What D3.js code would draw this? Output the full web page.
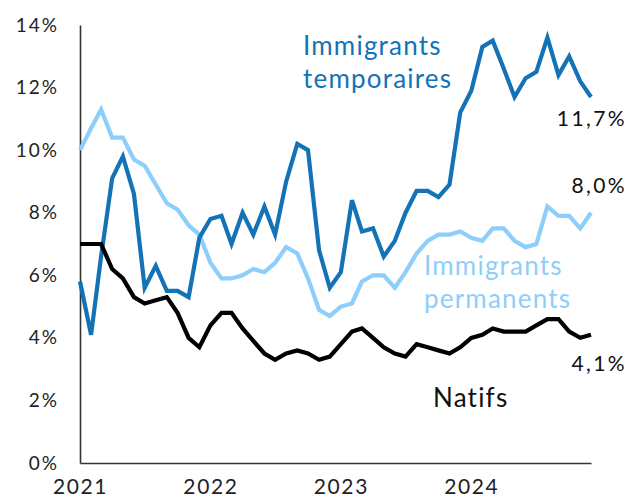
<!DOCTYPE html>
<html>
<head>
<meta charset="utf-8">
<script src="https://cdn.jsdelivr.net/npm/d3@7"></script>
<style>
  html, body { margin: 0; padding: 0; background: #fff; }
  svg { display: block; font-family: Lato, "Open Sans", sans-serif; }
</style>
</head>
<body>
<svg id="chart" width="631" height="502"></svg>
<script>
// Monthly unemployment rate (%), January 2021 to December 2024
const months = d3.range(48).map(i => new Date(2021, i, 1));

const temporaires = [
  5.8, 4.1, 6.6, 9.1, 9.8, 8.6, 5.6, 6.3, 5.5, 5.5, 5.3, 7.2,
  7.8, 7.9, 7.0, 8.0, 7.3, 8.2, 7.3, 9.0, 10.2, 10.0, 6.8, 5.6,
  6.1, 8.4, 7.4, 7.5, 6.6, 7.1, 8.0, 8.7, 8.7, 8.5, 8.9, 11.2,
  11.9, 13.3, 13.5, 12.6, 11.7, 12.3, 12.5, 13.6, 12.4, 13.0, 12.2, 11.7
];

const permanents = [
  10.0, 10.7, 11.3, 10.4, 10.4, 9.7, 9.5, 8.9, 8.3, 8.1, 7.6, 7.3,
  6.4, 5.9, 5.9, 6.0, 6.2, 6.1, 6.4, 6.9, 6.7, 5.9, 4.9, 4.7,
  5.0, 5.1, 5.8, 6.0, 6.0, 5.6, 6.1, 6.7, 7.1, 7.3, 7.3, 7.4,
  7.2, 7.1, 7.5, 7.5, 7.1, 6.9, 7.0, 8.2, 7.9, 7.9, 7.5, 8.0
];

const natifs = [
  7.0, 7.0, 7.0, 6.2, 5.9, 5.3, 5.1, 5.2, 5.3, 4.8, 4.0, 3.7,
  4.4, 4.8, 4.8, 4.3, 3.9, 3.5, 3.3, 3.5, 3.6, 3.5, 3.3, 3.4,
  3.8, 4.2, 4.3, 4.0, 3.7, 3.5, 3.4, 3.8, 3.7, 3.6, 3.5, 3.7,
  4.0, 4.1, 4.3, 4.2, 4.2, 4.2, 4.4, 4.6, 4.6, 4.2, 4.0, 4.1
];

const yTicks = [0, 2, 4, 6, 8, 10, 12, 14];
const xTickYears = [2021, 2022, 2023, 2024];

const colors = { temporaires: "#1472b6", permanents: "#8dcefa", natifs: "#000000" };

const svg = d3.select("#chart");
const margin = { left: 80, right: 40, top: 25, bottom: 39 };
const width = 631, height = 502;

const x = d3.scaleTime()
  .domain([months[0], months[months.length - 1]])
  .range([margin.left, width - margin.right]);

const y = d3.scaleLinear()
  .domain([0, 14])
  .range([height - margin.bottom, margin.top]);

// Axes: plain lines, labels only
const yAxis = d3.axisLeft(y)
  .tickValues(yTicks)
  .tickSize(0)
  .tickPadding(21)
  .tickFormat(d => d + "%");

const gy = svg.append("g")
  .attr("transform", `translate(${margin.left},0)`)
  .call(yAxis);
gy.select(".domain").attr("stroke", "#333").attr("stroke-width", 1.6);
gy.selectAll("text")
  .attr("font-size", 19)
  .attr("letter-spacing", 2)
  .attr("fill", "#222")
  .attr("font-family", "Lato, sans-serif");

const xAxis = d3.axisBottom(x)
  .tickValues(xTickYears.map(yr => new Date(yr, 0, 1)))
  .tickSize(0)
  .tickPadding(16)
  .tickFormat(d3.timeFormat("%Y"));

const gx = svg.append("g")
  .attr("transform", `translate(0,${y(0)})`)
  .call(xAxis);
gx.select(".domain").attr("stroke", "#333").attr("stroke-width", 1.6);
gx.selectAll("text")
  .attr("font-size", 21)
  .attr("letter-spacing", 1.6)
  .attr("fill", "#222")
  .attr("font-family", "Lato, sans-serif");

// Series lines
const line = d3.line()
  .x((d, i) => x(months[i]))
  .y(d => y(d));

const series = [
  { key: "permanents", values: permanents },
  { key: "temporaires", values: temporaires },
  { key: "natifs", values: natifs }
];

svg.append("g")
  .selectAll("path")
  .data(series)
  .join("path")
  .attr("d", s => line(s.values))
  .attr("fill", "none")
  .attr("stroke", s => colors[s.key])
  .attr("stroke-width", 4.2)
  .attr("stroke-linejoin", "miter")
  .attr("stroke-linecap", "butt");

// Series names
const names = [
  { lines: ["Immigrants", "temporaires"], x: 303, y: 55, color: colors.temporaires },
  { lines: ["Immigrants", "permanents"], x: 424, y: 275, color: colors.permanents },
  { lines: ["Natifs"], x: 433, y: 407, color: "#111" }
];

names.forEach(n => {
  const t = svg.append("text")
    .attr("x", n.x)
    .attr("y", n.y)
    .attr("fill", n.color)
    .attr("font-size", 26)
    .attr("letter-spacing", 1.2)
    .attr("font-family", "Lato, sans-serif");
  n.lines.forEach((s, i) => {
    t.append("tspan")
      .attr("x", n.x)
      .attr("dy", i === 0 ? 0 : 33)
      .text(s);
  });
});

// End-of-series values
const fmt = v => v.toFixed(1).replace(".", ",") + "%";
const last = months.length - 1;
const endLabels = [
  { v: temporaires[last], dy: 29 },
  { v: permanents[last], dy: -20 },
  { v: natifs[last], dy: 36 }
];

svg.append("g")
  .selectAll("text")
  .data(endLabels)
  .join("text")
  .attr("x", 627)
  .attr("y", d => y(d.v) + d.dy)
  .attr("text-anchor", "end")
  .attr("font-size", 21)
  .attr("letter-spacing", 2.4)
  .attr("fill", "#111")
  .attr("font-family", "Lato, sans-serif")
  .text(d => fmt(d.v));
</script>
</body>
</html>
